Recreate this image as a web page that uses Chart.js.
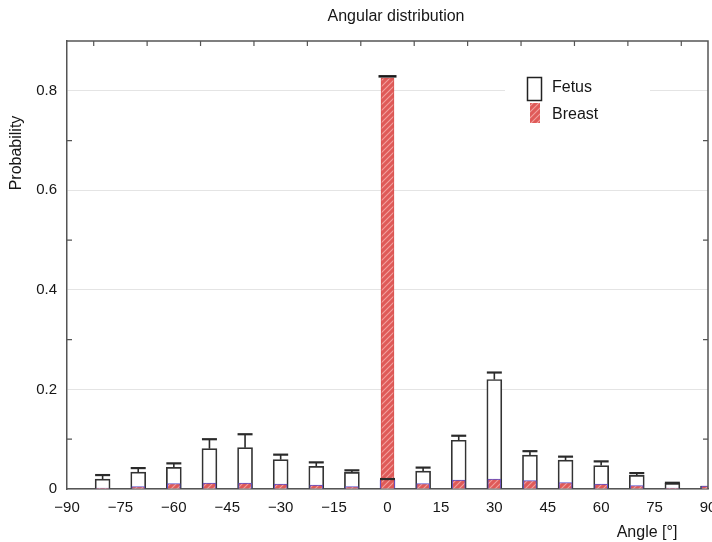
<!DOCTYPE html>
<html>
<head>
<meta charset="utf-8">
<title>Angular distribution</title>
<script src="https://cdn.jsdelivr.net/npm/chart.js@4.4.0/dist/chart.umd.min.js"></script>
<style>
  html, body { margin: 0; padding: 0; background: #fff; }
  #wrap { width: 712px; height: 542px; }
</style>
</head>
<body>
<div id="wrap"><canvas id="angleChart" width="712" height="542"></canvas></div>
<script>
// Bar positions (degrees)
const angles = [-80, -70, -60, -50, -40, -30, -20, -10, 0, 10, 20, 30, 40, 50, 60, 70, 80, 90];

// Fetus: bar height and upper error
const fetusValues = [0.020, 0.034, 0.0435, 0.081, 0.083, 0.059, 0.0455, 0.0335, 0.018, 0.036, 0.098, 0.220, 0.068, 0.058, 0.047, 0.0275, 0.0115, 0.006];
const fetusErrors = [0.008, 0.008, 0.008, 0.019, 0.027, 0.010, 0.008, 0.004, 0.002, 0.007, 0.009, 0.014, 0.008, 0.007, 0.0085, 0.0045, 0.001, 0];

// Breast: bar height and upper error
const breastValues = [0.002, 0.005, 0.011, 0.012, 0.012, 0.010, 0.008, 0.005, 0.826, 0.011, 0.018, 0.020, 0.017, 0.013, 0.010, 0.007, 0.002, 0.006];
const breastErrors = [0, 0, 0, 0, 0, 0, 0, 0, 0.003, 0, 0, 0, 0, 0, 0, 0, 0, 0];

// Axis ticks
const xTickValues = [-90, -75, -60, -45, -30, -15, 0, 15, 30, 45, 60, 75, 90];
const yTickValues = [0, 0.2, 0.4, 0.6, 0.8];
// Inner tick marks (drawn on the frame, between labels)
const xMarkValues = [-82.5, -67.5, -52.5, -37.5, -22.5, -7.5, 7.5, 22.5, 37.5, 52.5, 67.5, 82.5];
const yMarkValues = [0.1, 0.3, 0.5, 0.7];

const FONT = '"Liberation Sans", Arial, Helvetica, sans-serif';
const TEXT = '#161616';
const FRAME = '#555';

const canvas = document.getElementById('angleChart');
const ctx = canvas.getContext('2d');

// red hatch fill for the Breast bars
function makeHatch() {
  const c = document.createElement('canvas');
  c.width = 6; c.height = 6;
  const g = c.getContext('2d');
  g.fillStyle = '#df5a58';
  g.fillRect(0, 0, 6, 6);
  g.strokeStyle = '#f2a19e';
  g.lineWidth = 1.1;
  g.beginPath();
  g.moveTo(0, 6); g.lineTo(6, 0);
  g.moveTo(-3, 3); g.lineTo(3, -3);
  g.moveTo(3, 9); g.lineTo(9, 3);
  g.stroke();
  return ctx.createPattern(c, 'repeat');
}
const hatch = makeHatch();

function minus(v) {
  return v < 0 ? '\u2212' + Math.abs(v) : String(v);
}

// frame, inner tick marks, error bars, legend and titles
const extrasPlugin = {
  id: 'extras',
  afterDatasetsDraw(chart) {
    const { ctx, chartArea: a, scales: { x, y } } = chart;
    ctx.save();

    // error bars for Fetus
    ctx.strokeStyle = '#2a2a2a';
    angles.forEach((ang, i) => {
      if (!fetusErrors[i]) return;
      const px = x.getPixelForValue(ang);
      const top = y.getPixelForValue(fetusValues[i]);
      const cap = y.getPixelForValue(fetusValues[i] + fetusErrors[i]);
      ctx.lineWidth = 1.6;
      ctx.beginPath();
      ctx.moveTo(px, top); ctx.lineTo(px, cap);
      ctx.stroke();
      ctx.lineWidth = 2.2;
      ctx.beginPath();
      ctx.moveTo(px - 7.5, cap); ctx.lineTo(px + 7.5, cap);
      ctx.stroke();
    });
    // error bars for Breast
    ctx.strokeStyle = '#1a1a1a';
    angles.forEach((ang, i) => {
      if (!breastErrors[i]) return;
      const px = x.getPixelForValue(ang);
      const cap = y.getPixelForValue(breastValues[i] + breastErrors[i]);
      ctx.lineWidth = 2.5;
      ctx.beginPath();
      ctx.moveTo(px - 9, cap); ctx.lineTo(px + 9, cap);
      ctx.stroke();
    });

    // top and right frame lines
    ctx.strokeStyle = FRAME;
    ctx.lineWidth = 1.5;
    ctx.beginPath();
    ctx.moveTo(a.left, a.top); ctx.lineTo(a.right, a.top); ctx.lineTo(a.right, a.bottom);
    ctx.stroke();

    // inward tick marks
    ctx.lineWidth = 1.2;
    ctx.beginPath();
    xMarkValues.forEach(v => {
      const px = x.getPixelForValue(v);
      ctx.moveTo(px, a.top); ctx.lineTo(px, a.top + 5);
    });
    yMarkValues.forEach(v => {
      const py = y.getPixelForValue(v);
      ctx.moveTo(a.left, py); ctx.lineTo(a.left + 5, py);
      ctx.moveTo(a.right, py); ctx.lineTo(a.right - 5, py);
    });
    ctx.stroke();

    // legend box
    ctx.fillStyle = '#fff';
    ctx.fillRect(505, 66, 145, 64);
    ctx.strokeStyle = '#222';
    ctx.lineWidth = 1.5;
    ctx.strokeRect(527.5, 77.5, 14, 23);
    ctx.fillStyle = hatch;
    ctx.fillRect(530, 103, 10, 20);
    ctx.fillStyle = TEXT;
    ctx.font = '16px ' + FONT;
    ctx.textAlign = 'left';
    ctx.textBaseline = 'middle';
    ctx.fillText('Fetus', 552, 88);
    ctx.fillText('Breast', 552, 115);

    // chart title and axis titles
    ctx.textAlign = 'center';
    ctx.fillText('Angular distribution', 396, 17);
    ctx.fillText('Angle [\u00b0]', 647, 533);
    ctx.save();
    ctx.translate(17, 153);
    ctx.rotate(-Math.PI / 2);
    ctx.fillText('Probability', 0, 0);
    ctx.restore();

    ctx.restore();
  }
};

new Chart(ctx, {
  type: 'bar',
  data: {
    datasets: [
      {
        label: 'Fetus',
        data: angles.map((a, i) => ({ x: a, y: fetusValues[i] })),
        backgroundColor: '#fff',
        borderColor: c => (c.raw && c.raw.x === 0) ? '#5b4fc9' : '#333',
        borderWidth: 1.7,
        barThickness: 15,
        grouped: false,
        order: 1,
        clip: 0
      },
      {
        label: 'Breast',
        data: angles.map((a, i) => ({ x: a, y: breastValues[i] })),
        backgroundColor: hatch,
        borderColor: c => (c.raw && c.raw.y > 0.5) ? '#d9534f' : '#5b4fc9',
        borderWidth: 1,
        barThickness: 13,
        grouped: false,
        order: 0,
        clip: 0
      }
    ]
  },
  options: {
    responsive: false,
    animation: false,
    devicePixelRatio: 1,
    layout: { padding: { left: 0, right: 4, top: 41, bottom: 0 } },
    plugins: {
      legend: { display: false },
      tooltip: { enabled: false },
      title: { display: false }
    },
    scales: {
      x: {
        type: 'linear',
        min: -90,
        max: 90,
        offset: false,
        afterBuildTicks: s => { s.ticks = xTickValues.map(v => ({ value: v })); },
        afterFit: s => { s.height = 53; s.paddingLeft = 0; s.paddingRight = 0; },
        grid: { display: false, drawTicks: false, tickLength: 0 },
        border: { display: true, color: FRAME, width: 1.5 },
        ticks: {
          autoSkip: false,
          maxRotation: 0,
          padding: 10,
          color: TEXT,
          font: { family: FONT, size: 15 },
          callback: v => minus(v)
        }
      },
      y: {
        min: 0,
        max: 0.9,
        afterBuildTicks: s => { s.ticks = yTickValues.map(v => ({ value: v })); },
        afterFit: s => { s.width = 67; s.paddingTop = 0; s.paddingBottom = 0; },
        grid: { color: '#e4e4e4', lineWidth: 1, drawTicks: false, tickLength: 0 },
        border: { display: true, color: FRAME, width: 1.5 },
        ticks: {
          padding: 10,
          color: TEXT,
          font: { family: FONT, size: 15 },
          callback: v => v === 0 ? '0' : v.toFixed(1)
        }
      }
    }
  },
  plugins: [extrasPlugin]
});
</script>
</body>
</html>
